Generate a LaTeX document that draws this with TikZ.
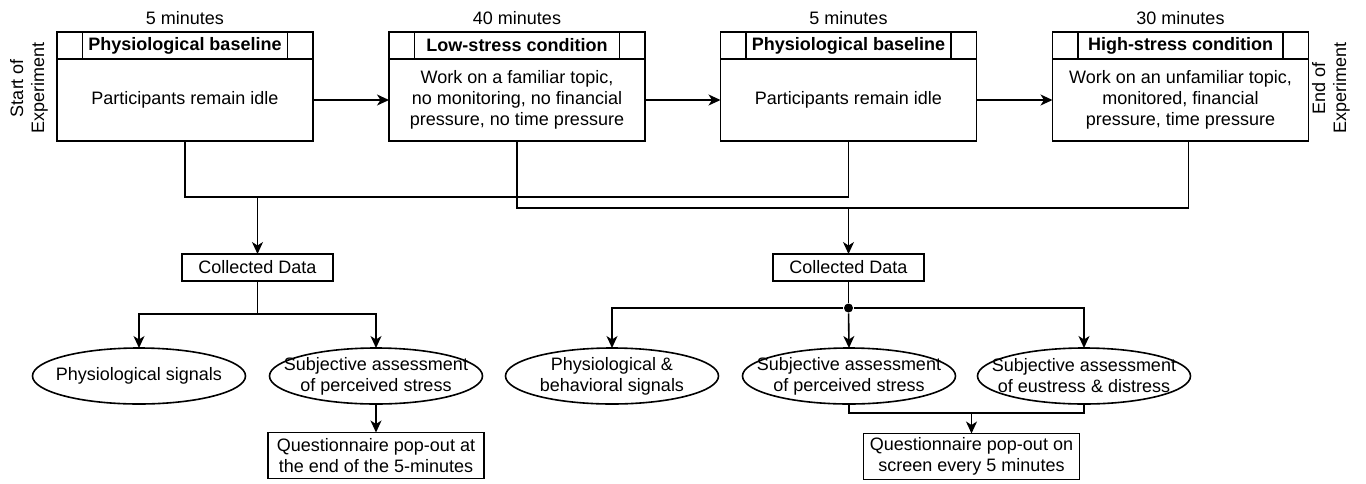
\documentclass[tikz,border=0pt]{standalone}
\usepackage{fontspec}
\setmainfont{Liberation Sans}
\usetikzlibrary{arrows.meta,positioning,shapes.geometric}

\begin{document}
\begin{tikzpicture}[
    x=1pt, y=-1pt,
    font=\fontsize{18}{21}\selectfont,
    line width=1.6pt,
    phasehead/.style={draw, minimum width=256, minimum height=27, inner sep=0, outer sep=0},
    phasetitle/.style={draw, font=\fontsize{18}{21}\selectfont\bfseries, minimum width=205, minimum height=27, inner sep=0, outer sep=0},
    phasebody/.style={draw, align=center, minimum width=256, minimum height=82, inner sep=0, outer sep=0},
    databox/.style={draw, align=center, minimum width=151, minimum height=27, inner sep=0, outer sep=0},
    oval/.style={draw, ellipse, minimum width=213, minimum height=56, inner sep=0, outer sep=0},
    quest/.style={draw, align=center, minimum width=216, minimum height=46, inner sep=0, outer sep=0},
    hubdot/.style={circle, fill, minimum size=9, inner sep=0},
    arrow/.style={-{Stealth[length=12pt, width=11pt, inset=3.5pt]}}
  ]
    \useasboundingbox (0,0) rectangle (1366,483);

    % phases
    \node[phasehead] (h1) at (185,45.5) {};
    \node[phasetitle] (t1) at (h1) {Physiological baseline};
    \node[phasebody, below=0pt of h1] (b1) {Participants remain idle};
    \node[above=3pt of h1] (d1) {5 minutes};

    \node[phasehead] (h2) at (517,45.5) {};
    \node[phasetitle] (t2) at (h2) {Low-stress condition};
    \node[phasebody, below=0pt of h2] (b2) {Work on a familiar topic,\\no monitoring, no financial\\pressure, no time pressure};
    \node[above=3pt of h2] (d2) {40 minutes};

    \node[phasehead] (h3) at (848.5,45.5) {};
    \node[phasetitle] (t3) at (h3) {Physiological baseline};
    \node[phasebody, below=0pt of h3] (b3) {Participants remain idle};
    \node[above=3pt of h3] (d3) {5 minutes};

    \node[phasehead] (h4) at (1180.5,45.5) {};
    \node[phasetitle] (t4) at (h4) {High-stress condition};
    \node[phasebody, below=0pt of h4] (b4) {Work on an unfamiliar topic,\\monitored, financial\\pressure, time pressure};
    \node[above=3pt of h4] (d4) {30 minutes};

    \node[rotate=90, align=center] (start) at (29,88) {Start of\\Experiment};
    \node[rotate=90, align=center] (finish) at (1331,88) {End of\\Experiment};

    \draw[arrow] (b1.east) -- (b2.west);
    \draw[arrow] (b2.east) -- (b3.west);
    \draw[arrow] (b3.east) -- (b4.west);

    % collected data
    \node[databox] (cd1) at (257.5,267.5) {Collected Data};
    \node[databox] (cd2) at (848.5,267.5) {Collected Data};
    \coordinate (j1) at (257.5,197);
    \coordinate (j2) at (848.5,208);

    \draw (b1.south) -- ++(0,56) -| (b3.south);
    \draw (b2.south) -- ++(0,67) -| ([xshift=8pt]b4.south);
    \draw[arrow] (j1) -- (cd1.north);
    \draw[arrow] (j2) -- (cd2.north);

    % signals
    \node[oval] (e1) at (139,376) {};
    \node[oval, label={[align=center]center:Subjective assessment\\of perceived stress}] (e2) at (376,376) {};
    \node[oval] (e3) at (612,376) {};
    \node[oval, label={[align=center]center:Subjective assessment\\of perceived stress}] (e4) at (849,376) {};
    \node[oval, label={[align=center]center:Subjective assessment\\of eustress \& distress}] (e5) at (1084,376) {};
    \node at (e1) {Physiological signals};
    \node[align=center] at (e3) {Physiological \&\\behavioral signals};

    \draw[arrow] (cd1.south) -- ++(0,33) -| (e1.north);
    \draw[arrow] (cd1.south) -- ++(0,33) -| (e2.north);

    \node[hubdot] (hub) at (848.5,308) {};
    \draw (cd2.south) -- (hub);
    \draw[arrow] (hub) -| (e3.north);
    \draw[arrow] (hub) -- (e4.north);
    \draw[arrow] (hub) -| (e5.north);

    % questionnaires
    \node[quest] (q1) at (376,455.5) {Questionnaire pop-out at\\the end of the 5-minutes};
    \node[quest] (q2) at (971.5,456.5) {Questionnaire pop-out on\\screen every 5 minutes};
    \coordinate (j3) at (971.5,413);

    \draw[arrow] (e2.south) -- (q1.north);
    \draw (e4.south) -- ++(0,9) -| (e5.south);
    \draw[arrow] (j3) -- (q2.north);
  \end{tikzpicture}
\end{document}
